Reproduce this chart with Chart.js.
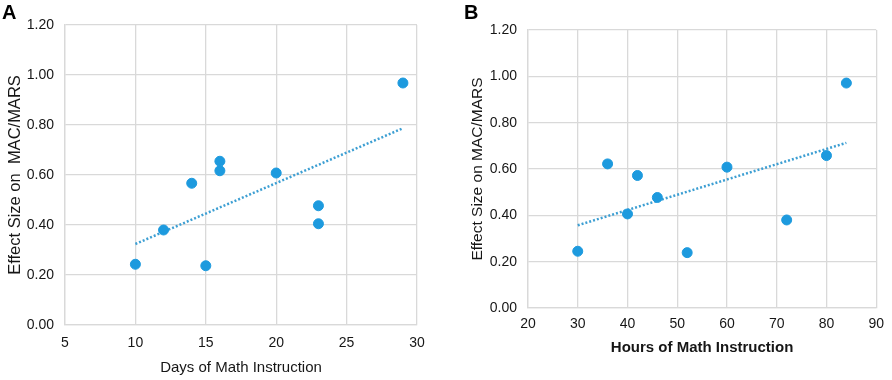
<!DOCTYPE html>
<html>
<head>
<meta charset="utf-8">
<script src="https://cdn.jsdelivr.net/npm/chart.js@4/dist/chart.umd.min.js"></script>
<style>
  body { margin: 0; background: #fff; width: 892px; height: 380px; overflow: hidden; font-family: "Liberation Sans", Arial, sans-serif; }
  .panel { position: absolute; top: 0; width: 446px; height: 380px; }
  .tag { position: absolute; font-weight: bold; font-size: 20px; color: #000; }
</style>
</head>
<body>
<div class="panel" style="left:0"><canvas id="chartA" width="446" height="380"></canvas></div>
<div class="panel" style="left:446px"><canvas id="chartB" width="446" height="380"></canvas></div>
<div class="tag" style="left:2px;top:1px">A</div>
<div class="tag" style="left:464px;top:1px">B</div>
<script>
// panel A: days of instruction vs effect size
const daysX = [10, 12, 14, 15, 16, 16, 20, 23, 23, 29];
const daysEffect = [0.243, 0.38, 0.567, 0.237, 0.655, 0.617, 0.608, 0.477, 0.405, 0.968];
const daysTrendX = [10, 29];
const daysTrendY = [0.324, 0.787];

// panel B: hours of instruction vs effect size
const hoursX = [30, 36, 40, 42, 46, 52, 60, 72, 80, 84];
const hoursEffect = [0.245, 0.622, 0.406, 0.572, 0.477, 0.239, 0.608, 0.38, 0.658, 0.971];
const hoursTrendX = [30, 84];
const hoursTrendY = [0.357, 0.713];

const yTicks = [0, 0.2, 0.4, 0.6, 0.8, 1.0, 1.2];

const dotColor = "#1d9ade";
const trendColor = "#3d9fd3";
const gridColor = "#d9d9d9";
const textColor = "#161616";
const tickFont = { family: "Liberation Sans", size: 14 };

const toPoints = (xs, ys) => xs.map((x, i) => ({ x: x, y: ys[i] }));

function makeChart(id, cfg) {
  const ctx = document.getElementById(id).getContext("2d");
  return new Chart(ctx, {
    type: "scatter",
    data: {
      datasets: [
        {
          data: toPoints(cfg.xs, cfg.ys),
          backgroundColor: dotColor,
          borderColor: dotColor,
          pointRadius: 5,
          pointHoverRadius: 5,
        },
        {
          type: "line",
          data: toPoints(cfg.trendX, cfg.trendY),
          borderColor: trendColor,
          borderWidth: 2.5,
          borderDash: [2, 2],
          pointRadius: 0,
          fill: false,
        },
      ],
    },
    options: {
      responsive: false,
      animation: false,
      layout: { padding: cfg.padding },
      plugins: { legend: { display: false }, tooltip: { enabled: false } },
      scales: {
        x: {
          type: "linear",
          min: cfg.xMin,
          max: cfg.xMax,
          afterFit: (s) => { s.height = cfg.xHeight; },
          ticks: { stepSize: cfg.xStep, font: tickFont, color: textColor, padding: cfg.xTickPad },
          grid: { color: gridColor, lineWidth: 1.3, drawTicks: false },
          border: { color: gridColor, width: 1.3 },
          title: {
            display: true,
            text: cfg.xTitle,
            color: textColor,
            font: { family: "Liberation Sans", size: 15, weight: cfg.xBold ? "bold" : "normal" },
            padding: { top: 0, bottom: cfg.xTitlePad },
          },
        },
        y: {
          min: 0,
          max: 1.2,
          afterFit: (s) => { s.width = cfg.yWidth; },
          afterBuildTicks: (s) => { s.ticks = yTicks.map((v) => ({ value: v })); },
          ticks: { font: tickFont, color: textColor, padding: 11, callback: (v) => v.toFixed(2) },
          grid: { color: gridColor, lineWidth: 1.3, drawTicks: false },
          border: { color: gridColor, width: 1.3 },
          title: {
            display: true,
            text: cfg.yTitle,
            color: textColor,
            font: { family: "Liberation Sans", size: cfg.yTitleSize },
            padding: { top: cfg.yTitlePad, bottom: 0 },
          },
        },
      },
    },
  });
}

makeChart("chartA", {
  xs: daysX, ys: daysEffect, trendX: daysTrendX, trendY: daysTrendY,
  xMin: 5, xMax: 30, xStep: 5,
  xTitle: "Days of Math Instruction", xBold: false,
  yTitle: "Effect Size on  MAC/MARS", yTitleSize: 16.5,
  padding: { top: 25, right: 29, left: 0, bottom: 0 },
  yWidth: 65, xHeight: 55, xTickPad: 10, xTitlePad: 3, yTitlePad: 6,
});

makeChart("chartB", {
  xs: hoursX, ys: hoursEffect, trendX: hoursTrendX, trendY: hoursTrendY,
  xMin: 20, xMax: 90, xStep: 10,
  xTitle: "Hours of Math Instruction", xBold: true,
  yTitle: "Effect Size on MAC/MARS", yTitleSize: 15.5,
  padding: { top: 30, right: 10, left: 0, bottom: 0 },
  yWidth: 82, xHeight: 72, xTickPad: 8, xTitlePad: 23, yTitlePad: 22,
});
</script>
</body>
</html>
